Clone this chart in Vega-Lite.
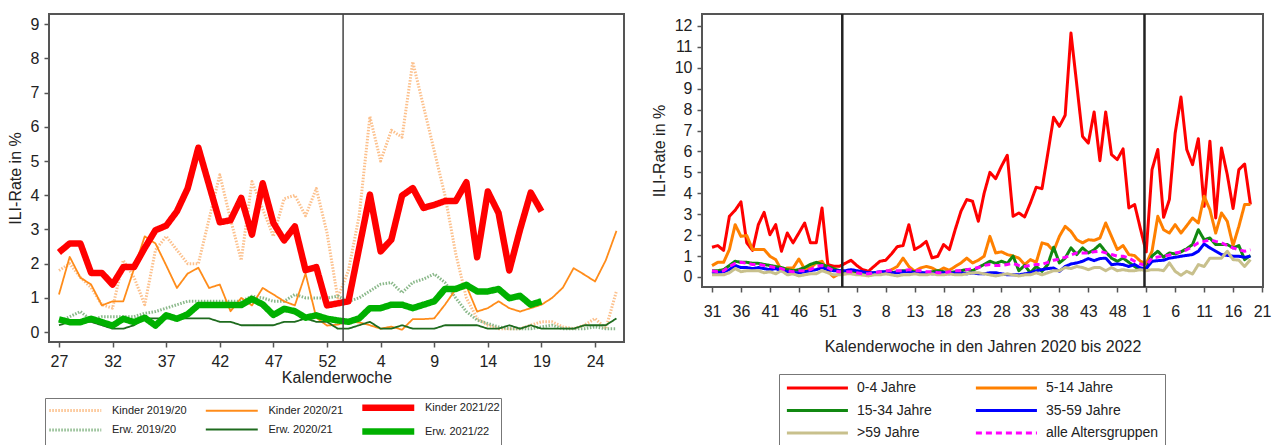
{
"$schema": "https://vega.github.io/schema/vega-lite/v6.json",
"padding": {"left": 6, "top": 11, "right": 0, "bottom": 0},
"spacing": 25,
"resolve": {"scale": {"color": "independent", "strokeDash": "independent", "strokeWidth": "independent"}, "legend": {"color": "independent", "strokeDash": "independent", "strokeWidth": "independent"}},
"config": {
  "font": "Liberation Sans",
  "view": {"stroke": "#555", "strokeWidth": 2},
  "axis": {"grid": false, "domain": false, "tickColor": "#555", "tickWidth": 1.5, "tickSize": 5, "labelFontSize": 16, "titleFontSize": 16, "titleFontWeight": "normal", "labelColor": "#222", "titleColor": "#222", "labelFont": "Liberation Sans", "titleFont": "Liberation Sans", "labelOverlap": false}
},
"datasets": {
  "labL": [{"k":"K19","s":"Kinder 2019/20"},{"k":"E19","s":"Erw. 2019/20"},{"k":"K20","s":"Kinder 2020/21"},{"k":"E20","s":"Erw. 2020/21"},{"k":"K21","s":"Kinder 2021/22"},{"k":"E21","s":"Erw. 2021/22"}],
  "labR": [{"k":"R","s":"0-4 Jahre"},{"k":"O","s":"5-14 Jahre"},{"k":"G","s":"15-34 Jahre"},{"k":"B","s":"35-59 Jahre"},{"k":"K","s":">59 Jahre"},{"k":"M","s":"alle Altersgruppen"}],
  "left": [
{"i":0,"K19":1.8,"E19":0.3,"K20":1.1,"E20":0.2,"K21":2.33,"E21":0.37},
{"i":1,"K19":2.0,"E19":0.45,"K20":2.2,"E20":0.3,"K21":2.59,"E21":0.29},
{"i":2,"K19":1.6,"E19":0.6,"K20":1.59,"E20":0.3,"K21":2.59,"E21":0.29},
{"i":3,"K19":1.3,"E19":0.35,"K20":1.39,"E20":0.3,"K21":1.73,"E21":0.39},
{"i":4,"K19":0.8,"E19":0.45,"K20":0.78,"E20":0.2,"K21":1.73,"E21":0.29},
{"i":5,"K19":0.7,"E19":0.45,"K20":0.9,"E20":0.1,"K21":1.39,"E21":0.19},
{"i":6,"K19":2.1,"E19":0.45,"K20":0.9,"E20":0.1,"K21":1.9,"E21":0.39},
{"i":7,"K19":1.6,"E19":0.45,"K20":1.85,"E20":0.2,"K21":1.9,"E21":0.29},
{"i":8,"K19":0.8,"E19":0.55,"K20":2.8,"E20":0.4,"K21":2.46,"E21":0.42},
{"i":9,"K19":2.4,"E19":0.6,"K20":2.59,"E20":0.4,"K21":2.98,"E21":0.19},
{"i":10,"K19":2.8,"E19":0.7,"K20":1.95,"E20":0.4,"K21":3.11,"E21":0.49},
{"i":11,"K19":2.4,"E19":0.8,"K20":1.29,"E20":0.4,"K21":3.53,"E21":0.39},
{"i":12,"K19":2.0,"E19":0.9,"K20":1.71,"E20":0.4,"K21":4.2,"E21":0.52},
{"i":13,"K19":2.0,"E19":0.9,"K20":1.88,"E20":0.4,"K21":5.39,"E21":0.79},
{"i":14,"K19":3.3,"E19":0.9,"K20":1.29,"E20":0.4,"K21":4.3,"E21":0.79},
{"i":15,"K19":4.6,"E19":0.9,"K20":1.39,"E20":0.3,"K21":3.21,"E21":0.79},
{"i":16,"K19":3.3,"E19":0.9,"K20":0.61,"E20":0.3,"K21":3.27,"E21":0.79},
{"i":17,"K19":2.1,"E19":0.9,"K20":1.0,"E20":0.2,"K21":3.92,"E21":0.79},
{"i":18,"K19":4.4,"E19":1.05,"K20":0.78,"E20":0.2,"K21":2.85,"E21":0.97},
{"i":19,"K19":3.6,"E19":1.0,"K20":1.29,"E20":0.2,"K21":4.35,"E21":0.81},
{"i":20,"K19":2.8,"E19":0.9,"K20":1.1,"E20":0.2,"K21":3.19,"E21":0.5},
{"i":21,"K19":3.9,"E19":0.9,"K20":0.9,"E20":0.3,"K21":2.68,"E21":0.68},
{"i":22,"K19":4.0,"E19":1.1,"K20":0.78,"E20":0.3,"K21":3.09,"E21":0.61},
{"i":23,"K19":3.4,"E19":1.0,"K20":1.71,"E20":0.4,"K21":1.81,"E21":0.42},
{"i":24,"K19":4.2,"E19":1.0,"K20":0.42,"E20":0.3,"K21":1.9,"E21":0.49},
{"i":25,"K19":2.9,"E19":1.0,"K20":0.19,"E20":0.3,"K21":0.78,"E21":0.39},
{"i":26,"K19":1.0,"E19":1.05,"K20":0.22,"E20":0.1,"K21":0.84,"E21":0.34},
{"i":27,"K19":1.8,"E19":0.9,"K20":0.31,"E20":0.1,"K21":0.9,"E21":0.3},
{"i":28,"K19":3.4,"E19":1.0,"K20":0.28,"E20":0.2,"K21":2.46,"E21":0.4},
{"i":29,"K19":6.3,"E19":1.2,"K20":0.2,"E20":0.3,"K21":4.02,"E21":0.7},
{"i":30,"K19":5.0,"E19":1.4,"K20":0.1,"E20":0.1,"K21":2.36,"E21":0.7},
{"i":31,"K19":5.9,"E19":1.45,"K20":0.16,"E20":0.1,"K21":2.7,"E21":0.8},
{"i":32,"K19":5.7,"E19":1.15,"K20":0.07,"E20":0.2,"K21":3.99,"E21":0.8},
{"i":33,"K19":7.9,"E19":1.45,"K20":0.38,"E20":0.1,"K21":4.21,"E21":0.7},
{"i":34,"K19":6.6,"E19":1.55,"K20":0.38,"E20":0.1,"K21":3.63,"E21":0.8},
{"i":35,"K19":5.3,"E19":1.7,"K20":0.4,"E20":0.1,"K21":3.72,"E21":0.9},
{"i":36,"K19":4.0,"E19":1.45,"K20":0.8,"E20":0.2,"K21":3.83,"E21":1.26},
{"i":37,"K19":2.3,"E19":1.0,"K20":1.25,"E20":0.2,"K21":3.83,"E21":1.26},
{"i":38,"K19":1.0,"E19":0.6,"K20":1.35,"E20":0.2,"K21":4.38,"E21":1.38},
{"i":39,"K19":0.4,"E19":0.35,"K20":0.6,"E20":0.2,"K21":2.19,"E21":1.19},
{"i":40,"K19":0.2,"E19":0.25,"K20":0.7,"E20":0.1,"K21":4.11,"E21":1.19},
{"i":41,"K19":0.1,"E19":0.15,"K20":0.9,"E20":0.1,"K21":3.48,"E21":1.26},
{"i":42,"K19":0.1,"E19":0.1,"K20":0.7,"E20":0.2,"K21":1.8,"E21":0.99},
{"i":43,"K19":0.1,"E19":0.1,"K20":0.6,"E20":0.1,"K21":2.99,"E21":1.06},
{"i":44,"K19":0.2,"E19":0.1,"K20":0.7,"E20":0.2,"K21":4.08,"E21":0.8},
{"i":45,"K19":0.3,"E19":0.15,"K20":0.8,"E20":0.1,"K21":3.53,"E21":0.9},
{"i":46,"K19":0.3,"E19":0.2,"K20":1.0,"E20":0.1},
{"i":47,"K19":0.15,"E19":0.1,"K20":1.3,"E20":0.1},
{"i":48,"K19":0.1,"E19":0.1,"K20":1.87,"E20":0.1},
{"i":49,"K19":0.2,"E19":0.1,"K20":1.68,"E20":0.2},
{"i":50,"K19":0.4,"E19":0.15,"K20":1.48,"E20":0.2},
{"i":51,"K19":0.1,"E19":0.1,"K20":2.1,"E20":0.2},
{"i":52,"K19":1.2,"E19":0.1,"K20":2.96,"E20":0.4}
  ],
  "right": [
{"j":0,"R":1.42,"O":0.54,"G":0.3,"B":0.15,"K":0.1,"M":0.3},
{"j":1,"R":1.5,"O":0.7,"G":0.3,"B":0.2,"K":0.1,"M":0.25},
{"j":2,"R":1.27,"O":0.7,"G":0.35,"B":0.25,"K":0.1,"M":0.3},
{"j":3,"R":2.9,"O":1.31,"G":0.55,"B":0.35,"K":0.2,"M":0.5},
{"j":4,"R":3.19,"O":2.5,"G":0.75,"B":0.55,"K":0.4,"M":0.65},
{"j":5,"R":3.59,"O":1.94,"G":0.7,"B":0.45,"K":0.25,"M":0.7},
{"j":6,"R":1.63,"O":1.98,"G":0.7,"B":0.45,"K":0.3,"M":0.65},
{"j":7,"R":1.27,"O":1.31,"G":0.65,"B":0.4,"K":0.3,"M":0.6},
{"j":8,"R":2.5,"O":1.31,"G":0.65,"B":0.45,"K":0.3,"M":0.6},
{"j":9,"R":3.09,"O":1.31,"G":0.6,"B":0.4,"K":0.2,"M":0.55},
{"j":10,"R":2.02,"O":0.99,"G":0.55,"B":0.35,"K":0.25,"M":0.5},
{"j":11,"R":2.5,"O":0.83,"G":0.5,"B":0.4,"K":0.15,"M":0.45},
{"j":12,"R":1.23,"O":0.32,"G":0.45,"B":0.3,"K":0.3,"M":0.4},
{"j":13,"R":2.1,"O":0.43,"G":0.35,"B":0.25,"K":0.1,"M":0.3},
{"j":14,"R":1.63,"O":0.43,"G":0.3,"B":0.2,"K":0.15,"M":0.25},
{"j":15,"R":2.1,"O":0.86,"G":0.35,"B":0.2,"K":0.05,"M":0.3},
{"j":16,"R":2.58,"O":0.38,"G":0.45,"B":0.25,"K":0.1,"M":0.3},
{"j":17,"R":1.63,"O":0.43,"G":0.6,"B":0.3,"K":0.15,"M":0.35},
{"j":18,"R":1.63,"O":0.67,"G":0.7,"B":0.35,"K":0.15,"M":0.5},
{"j":19,"R":3.3,"O":0.75,"G":0.6,"B":0.45,"K":0.3,"M":0.55},
{"j":20,"R":0.59,"O":0.27,"G":0.5,"B":0.35,"K":0.2,"M":0.45},
{"j":21,"R":0.51,"O":0.0,"G":0.4,"B":0.3,"K":0.1,"M":0.3},
{"j":22,"R":0.51,"O":0.15,"G":0.3,"B":0.3,"K":0.1,"M":0.25},
{"j":23,"R":0.65,"O":0.15,"G":0.25,"B":0.3,"K":0.15,"M":0.25},
{"j":24,"R":0.8,"O":0.2,"G":0.3,"B":0.35,"K":0.15,"M":0.25},
{"j":25,"R":0.55,"O":0.15,"G":0.25,"B":0.3,"K":0.1,"M":0.2},
{"j":26,"R":0.35,"O":0.1,"G":0.2,"B":0.25,"K":0.1,"M":0.15},
{"j":27,"R":0.27,"O":0.1,"G":0.15,"B":0.2,"K":0.05,"M":0.15},
{"j":28,"R":0.51,"O":0.15,"G":0.2,"B":0.2,"K":0.1,"M":0.2},
{"j":29,"R":0.75,"O":0.2,"G":0.2,"B":0.25,"K":0.1,"M":0.25},
{"j":30,"R":0.8,"O":0.25,"G":0.2,"B":0.25,"K":0.15,"M":0.3},
{"j":31,"R":1.1,"O":0.35,"G":0.2,"B":0.2,"K":0.1,"M":0.3},
{"j":32,"R":1.45,"O":0.5,"G":0.25,"B":0.2,"K":0.05,"M":0.3},
{"j":33,"R":1.5,"O":0.9,"G":0.3,"B":0.25,"K":0.1,"M":0.3},
{"j":34,"R":2.5,"O":0.5,"G":0.3,"B":0.25,"K":0.1,"M":0.35},
{"j":35,"R":1.31,"O":0.27,"G":0.25,"B":0.2,"K":0.15,"M":0.3},
{"j":36,"R":1.47,"O":0.43,"G":0.2,"B":0.2,"K":0.1,"M":0.3},
{"j":37,"R":1.7,"O":0.5,"G":0.15,"B":0.2,"K":0.1,"M":0.25},
{"j":38,"R":0.91,"O":0.43,"G":0.25,"B":0.15,"K":0.15,"M":0.25},
{"j":39,"R":0.99,"O":0.27,"G":0.3,"B":0.2,"K":0.1,"M":0.2},
{"j":40,"R":1.55,"O":0.43,"G":0.25,"B":0.2,"K":0.1,"M":0.2},
{"j":41,"R":1.31,"O":0.32,"G":0.2,"B":0.15,"K":0.15,"M":0.25},
{"j":42,"R":2.26,"O":0.5,"G":0.25,"B":0.2,"K":0.1,"M":0.3},
{"j":43,"R":3.14,"O":0.67,"G":0.3,"B":0.2,"K":0.1,"M":0.3},
{"j":44,"R":3.7,"O":0.9,"G":0.35,"B":0.15,"K":0.15,"M":0.35},
{"j":45,"R":3.62,"O":0.67,"G":0.3,"B":0.2,"K":0.2,"M":0.4},
{"j":46,"R":2.66,"O":0.8,"G":0.45,"B":0.15,"K":0.2,"M":0.45},
{"j":47,"R":4.0,"O":0.99,"G":0.6,"B":0.15,"K":0.15,"M":0.55},
{"j":48,"R":5.0,"O":1.94,"G":0.75,"B":0.2,"K":0.1,"M":0.6},
{"j":49,"R":4.7,"O":1.15,"G":0.65,"B":0.2,"K":0.05,"M":0.55},
{"j":50,"R":5.3,"O":1.2,"G":0.75,"B":0.15,"K":0.1,"M":0.55},
{"j":51,"R":5.82,"O":1.07,"G":0.65,"B":0.1,"K":0.15,"M":0.6},
{"j":52,"R":2.9,"O":1.0,"G":1.0,"B":0.1,"K":0.1,"M":0.65},
{"j":53,"R":3.06,"O":0.9,"G":0.3,"B":0.1,"K":0.05,"M":0.55},
{"j":54,"R":2.87,"O":0.59,"G":0.55,"B":0.15,"K":0.1,"M":0.5},
{"j":55,"R":3.54,"O":0.83,"G":0.2,"B":0.2,"K":0.1,"M":0.55},
{"j":56,"R":4.29,"O":0.7,"G":0.5,"B":0.3,"K":0.2,"M":0.6},
{"j":57,"R":4.22,"O":1.63,"G":0.27,"B":0.35,"K":0.1,"M":0.6},
{"j":58,"R":5.9,"O":1.55,"G":0.6,"B":0.4,"K":0.2,"M":0.7},
{"j":59,"R":7.63,"O":1.23,"G":1.42,"B":0.43,"K":0.3,"M":0.8},
{"j":60,"R":7.2,"O":1.94,"G":0.67,"B":0.27,"K":0.3,"M":0.85},
{"j":61,"R":7.73,"O":2.42,"G":0.9,"B":0.5,"K":0.45,"M":0.94},
{"j":62,"R":11.66,"O":2.18,"G":1.39,"B":0.62,"K":0.4,"M":1.05},
{"j":63,"R":9.2,"O":1.78,"G":1.07,"B":0.67,"K":0.5,"M":1.15},
{"j":64,"R":6.72,"O":1.63,"G":1.39,"B":0.75,"K":0.45,"M":1.15},
{"j":65,"R":6.4,"O":1.78,"G":1.15,"B":0.88,"K":0.35,"M":1.15},
{"j":66,"R":7.89,"O":1.75,"G":1.3,"B":0.78,"K":0.45,"M":1.2},
{"j":67,"R":5.56,"O":1.86,"G":1.55,"B":0.88,"K":0.45,"M":1.23},
{"j":68,"R":7.89,"O":2.58,"G":1.2,"B":0.9,"K":0.3,"M":1.15},
{"j":69,"R":5.85,"O":1.94,"G":0.9,"B":0.59,"K":0.45,"M":1.07},
{"j":70,"R":5.61,"O":1.31,"G":0.75,"B":0.62,"K":0.3,"M":1.0},
{"j":71,"R":6.12,"O":1.5,"G":0.9,"B":0.59,"K":0.35,"M":0.99},
{"j":72,"R":3.3,"O":1.07,"G":0.7,"B":0.5,"K":0.3,"M":0.9},
{"j":73,"R":3.46,"O":1.02,"G":0.5,"B":0.6,"K":0.3,"M":0.75},
{"j":74,"R":2.3,"O":0.75,"G":0.35,"B":0.43,"K":0.35,"M":0.62},
{"j":75,"R":1.2,"O":0.65,"G":0.4,"B":0.4,"K":0.3,"M":0.56},
{"j":76,"R":5.13,"O":1.23,"G":1.0,"B":0.75,"K":0.35,"M":0.9},
{"j":77,"R":6.09,"O":2.9,"G":1.23,"B":0.78,"K":0.35,"M":0.95},
{"j":78,"R":2.85,"O":2.26,"G":0.95,"B":0.8,"K":0.3,"M":0.99},
{"j":79,"R":3.7,"O":2.1,"G":1.15,"B":0.9,"K":0.67,"M":1.05},
{"j":80,"R":6.88,"O":2.5,"G":1.1,"B":0.94,"K":0.27,"M":1.15},
{"j":81,"R":8.6,"O":2.1,"G":1.2,"B":0.99,"K":0.08,"M":1.2},
{"j":82,"R":6.09,"O":2.45,"G":1.35,"B":1.03,"K":0.27,"M":1.3},
{"j":83,"R":5.37,"O":2.82,"G":1.55,"B":1.07,"K":0.14,"M":1.45},
{"j":84,"R":6.61,"O":2.58,"G":2.26,"B":1.23,"K":0.59,"M":1.63},
{"j":85,"R":3.38,"O":3.86,"G":1.78,"B":1.58,"K":0.5,"M":1.7},
{"j":86,"R":6.49,"O":3.22,"G":1.86,"B":1.39,"K":0.9,"M":1.78},
{"j":87,"R":2.82,"O":2.1,"G":1.55,"B":1.23,"K":0.9,"M":1.7},
{"j":88,"R":6.17,"O":3.06,"G":1.55,"B":1.07,"K":0.9,"M":1.63},
{"j":89,"R":4.89,"O":2.66,"G":1.55,"B":1.03,"K":1.23,"M":1.5},
{"j":90,"R":3.27,"O":1.5,"G":1.39,"B":0.99,"K":0.83,"M":1.39},
{"j":91,"R":5.13,"O":2.42,"G":1.5,"B":0.99,"K":0.8,"M":1.3},
{"j":92,"R":5.4,"O":3.46,"G":0.83,"B":0.94,"K":0.5,"M":1.23},
{"j":93,"R":3.46,"O":3.46,"G":1.03,"B":0.99,"K":0.83,"M":1.3}
  ]
},
"hconcat": [
  {
    "width": 575, "height": 328,
    "layer": [
      {
        "data": {"name": "left"},
        "transform": [
          {"fold": ["K19","E19","K20","E20","E21","K21"], "as": ["k","v"]},
          {"filter": "isValid(datum.v)"},
          {"lookup": "k", "from": {"data": {"name": "labL"}, "key": "k", "fields": ["s"]}}
        ],
        "mark": {"type": "line", "strokeJoin": "round"},
        "encoding": {
          "x": {"field": "i", "type": "quantitative", "scale": {"domain": [-0.93, 52.7], "nice": false, "zero": false},
                "axis": {"values": [0,5,10,15,20,25,30,35,40,45,50], "tickCount": 11, "labelExpr": "datum.value <= 26 ? datum.value + 27 : datum.value - 26", "title": "Kalenderwoche", "labelPadding": 6, "titlePadding": 0, "labelOverlap": false}},
          "y": {"field": "v", "type": "quantitative", "scale": {"domain": [-0.29, 9.3], "nice": false, "zero": false},
                "axis": {"values": [0,1,2,3,4,5,6,7,8,9], "title": "ILI-Rate in %", "labelPadding": 5, "titlePadding": 7, "labelOverlap": false}},
          "color": {"field": "s", "type": "nominal",
                "scale": {"domain": ["Kinder 2019/20","Kinder 2020/21","Kinder 2021/22","Erw. 2019/20","Erw. 2020/21","Erw. 2021/22"], "range": ["#FCC08C","#FF8C1A","#FF0000","#8AB88A","#1E6B1E","#00B000"]},
                "legend": {"title": null, "orient": "none", "legendX": -4, "legendY": 384, "direction": "horizontal", "columns": 3, "gridAlign": "all", "symbolType": "M-1,0H9", "symbolSize": 108, "labelFontSize": 11, "labelFont": "Liberation Sans", "labelColor": "#222", "strokeColor": "#777", "padding": 1, "rowPadding": -3, "columnPadding": 5.5, "labelOffset": 49}},
          "strokeDash": {"field": "s", "type": "nominal",
                "scale": {"domain": ["Kinder 2019/20","Kinder 2020/21","Kinder 2021/22","Erw. 2019/20","Erw. 2020/21","Erw. 2021/22"], "range": [[1.5,1.5],[1,0],[1,0],[1.5,1.5],[1,0],[1,0]]},
                "legend": {"title": null, "orient": "none", "legendX": -4, "legendY": 384, "direction": "horizontal", "columns": 3, "gridAlign": "all", "symbolType": "M-1,0H9", "symbolSize": 108, "labelFontSize": 11, "labelFont": "Liberation Sans", "labelColor": "#222", "strokeColor": "#777", "padding": 1, "rowPadding": -3, "columnPadding": 5.5, "labelOffset": 49}},
          "strokeWidth": {"field": "s", "type": "nominal",
                "scale": {"type": "ordinal", "domain": ["Kinder 2019/20","Kinder 2020/21","Kinder 2021/22","Erw. 2019/20","Erw. 2020/21","Erw. 2021/22"], "range": [3, 1.8, 6.5, 3, 1.8, 6.5]},
                "legend": {"title": null, "orient": "none", "legendX": -4, "legendY": 384, "direction": "horizontal", "columns": 3, "gridAlign": "all", "symbolType": "M-1,0H9", "symbolSize": 108, "labelFontSize": 11, "labelFont": "Liberation Sans", "labelColor": "#222", "strokeColor": "#777", "padding": 1, "rowPadding": -3, "columnPadding": 5.5, "labelOffset": 49}}
        }
      },
      {
        "data": {"values": [{"i": 26.5}]},
        "mark": {"type": "rule", "color": "#444", "strokeWidth": 1.5},
        "encoding": {"x": {"field": "i", "type": "quantitative"}}
      }
    ]
  },
  {
    "width": 561, "height": 273,
    "layer": [
      {
        "data": {"name": "right"},
        "transform": [
          {"fold": ["R","O","G","B","K","M"], "as": ["k","v"]},
          {"lookup": "k", "from": {"data": {"name": "labR"}, "key": "k", "fields": ["s"]}}
        ],
        "mark": {"type": "line", "strokeWidth": 3, "strokeJoin": "round"},
        "encoding": {
          "x": {"field": "j", "type": "quantitative", "scale": {"domain": [-1.73, 95.17], "nice": false, "zero": false},
                "axis": {"values": [0,5,10,15,20,25,30,35,40,45,50,55,60,65,70,75,80,85,90,95], "tickCount": 20, "labelExpr": "datum.value <= 22 ? datum.value + 31 : (datum.value <= 74 ? datum.value - 22 : datum.value - 74)", "title": "Kalenderwoche in den Jahren 2020 bis 2022", "labelPadding": 11, "titlePadding": 19, "labelOverlap": false, "labelSeparation": 0, "labelFlush": false}},
          "y": {"field": "v", "type": "quantitative", "scale": {"domain": [-0.48, 12.57], "nice": false, "zero": false},
                "axis": {"values": [0,1,2,3,4,5,6,7,8,9,10,11,12], "title": "ILI-Rate in %", "labelPadding": 5, "titlePadding": 7, "labelOverlap": false}},
          "color": {"field": "s", "type": "nominal",
                "scale": {"domain": ["0-4 Jahre","5-14 Jahre","15-34 Jahre","35-59 Jahre",">59 Jahre","alle Altersgruppen"], "range": ["#FF0000","#FF8000","#118811","#0000FF","#C8C08C","#FF00FF"]},
                "legend": {"title": null, "orient": "none", "legendX": 77, "legendY": 360, "direction": "horizontal", "columns": 2, "symbolType": "M-1,0H9", "symbolSize": 149, "symbolStrokeWidth": 3, "labelFontSize": 14, "labelFont": "Liberation Sans", "labelColor": "#222", "strokeColor": "#777", "padding": 6, "rowPadding": 7.5, "columnPadding": 37, "labelOffset": 56}},
          "strokeDash": {"field": "s", "type": "nominal",
                "scale": {"domain": ["0-4 Jahre","5-14 Jahre","15-34 Jahre","35-59 Jahre",">59 Jahre","alle Altersgruppen"], "range": [[1,0],[1,0],[1,0],[1,0],[1,0],[6,4]]},
                "legend": {"title": null, "orient": "none", "legendX": 77, "legendY": 360, "direction": "horizontal", "columns": 2, "symbolType": "M-1,0H9", "symbolSize": 149, "symbolStrokeWidth": 3, "labelFontSize": 14, "labelFont": "Liberation Sans", "labelColor": "#222", "strokeColor": "#777", "padding": 6, "rowPadding": 7.5, "columnPadding": 37, "labelOffset": 56}}
        }
      },
      {
        "data": {"values": [{"j": 22.5}, {"j": 74.7}]},
        "mark": {"type": "rule", "color": "#222", "strokeWidth": 2.5},
        "encoding": {"x": {"field": "j", "type": "quantitative"}}
      }
    ]
  }
]
}
